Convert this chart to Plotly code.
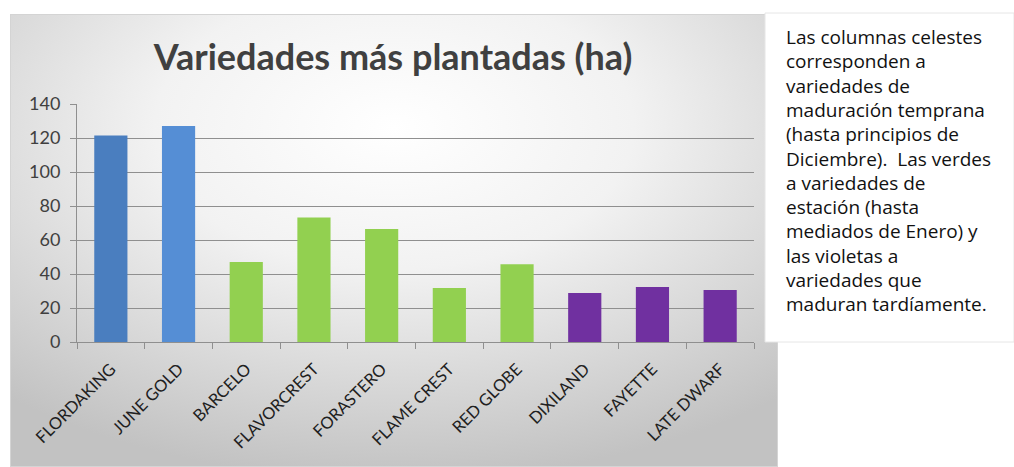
import plotly.graph_objects as go
import base64

categories = ["FLORDAKING", "JUNE GOLD", "BARCELO", "FLAVORCREST", "FORASTERO",
              "FLAME CREST", "RED GLOBE", "DIXILAND", "FAYETTE", "LATE DWARF"]
values = [121.5, 127, 47, 73.3, 66.5, 31.8, 45.7, 28.8, 32.4, 30.6]
colors = ["#4A7EBF", "#558ED5", "#92D050", "#92D050", "#92D050",
          "#92D050", "#92D050", "#7030A0", "#7030A0", "#7030A0"]
y_ticks = [0, 20, 40, 60, 80, 100, 120, 140]

title_text = "Variedades más plantadas (ha)"
note_lines = ["Las columnas celestes", "corresponden a", "variedades de", "maduración temprana",
              "(hasta principios de", "Diciembre).  Las verdes", "a variedades de",
              "estación (hasta", "mediados de Enero) y", "las violetas a",
              "variedades que", "maduran tardíamente."]

W, H = 1014, 467
L, R, T, B = 77, 754, 104, 342
pw, ph = R - L, B - T

def px(x):
    return (x - L) / pw

def py(y):
    return (B - y) / ph

svg = """<svg xmlns='http://www.w3.org/2000/svg' width='768' height='453' viewBox='0 0 768 453' preserveAspectRatio='none'>
<defs><radialGradient id='g' cx='0.5' cy='0.25' r='0.78' fx='0.5' fy='0.25'>
<stop offset='0' stop-color='#ffffff'/><stop offset='0.4' stop-color='#f2f2f2'/>
<stop offset='1' stop-color='#c2c2c2'/></radialGradient></defs>
<rect x='0' y='0' width='768' height='453' fill='url(#g)'/>
<rect x='0.5' y='0.5' width='767' height='452' fill='none' stroke='#d4d4d4' stroke-width='1'/>
</svg>"""
src = "data:image/svg+xml;base64," + base64.b64encode(svg.encode()).decode()

fig = go.Figure(go.Bar(x=categories, y=values, marker=dict(color=colors, line=dict(width=0))))

font_main = "Lato, Open Sans, sans-serif"
fig.update_layout(
    width=W, height=H,
    margin=dict(l=L, r=W - R, t=T, b=H - B, pad=0),
    paper_bgcolor="white", plot_bgcolor="rgba(0,0,0,0)",
    bargap=0.51, showlegend=False,
    font=dict(family=font_main, color="#404040"),
    title=dict(text="<b>" + title_text + "</b>", x=393 / W, xanchor="center",
               y=1 - 57 / H, yanchor="middle",
               font=dict(size=36, color="#404040", family=font_main)),
    images=[dict(source=src, xref="paper", yref="paper", x=px(10), y=py(14),
                 sizex=768 / pw, sizey=453 / ph, xanchor="left", yanchor="top",
                 sizing="stretch", layer="below")],
)

fig.update_yaxes(range=[0, 140], tickvals=y_ticks, showgrid=True, gridcolor="#8f8f8f", gridwidth=1,
                 showline=True, linecolor="#8f8f8f", linewidth=1, ticks="outside", ticklen=6,
                 tickcolor="#8f8f8f", zeroline=False,
                 tickfont=dict(size=18, color="#404040", family=font_main),
                 ticklabelstandoff=6)
fig.update_xaxes(showline=True, linecolor="#8f8f8f", linewidth=1, ticks="outside", ticklen=6,
                 tickcolor="#8f8f8f", tickson="boundaries", tickangle=-45,
                 ticklabelstandoff=10,
                 tickfont=dict(size=16.5, color="#202020", family=font_main))

# white note box on the right
fig.add_shape(type="rect", xref="paper", yref="paper",
              x0=px(765), x1=px(1014), y0=py(342), y1=py(13),
              fillcolor="white", line=dict(color="#e6e6e6", width=1), layer="above")
for i, line in enumerate(note_lines):
    fig.add_annotation(text=line, xref="paper", yref="paper",
                       x=px(784), y=py(37 + i * 24.3), xanchor="left", yanchor="middle",
                       align="left", showarrow=False,
                       font=dict(size=19, color="#111111", family="Open Sans, Noto Sans, sans-serif"))

fig.write_html("out.html", config={"displayModeBar": False},
               post_script="document.body.style.margin='0';")
